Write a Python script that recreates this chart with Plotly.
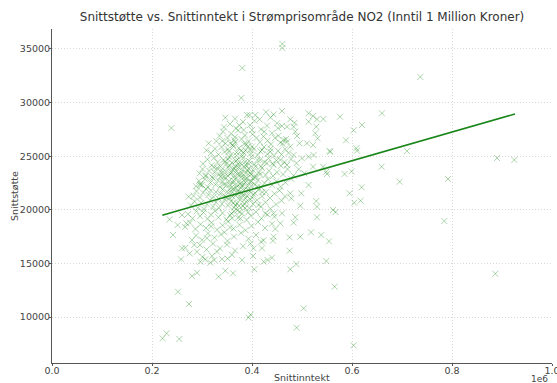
import plotly.graph_objects as go

# ---- data (income in kroner, support in kroner) ----
outlier_points = [
    (460600, 35470), (460600, 35090), (380600, 33230), (736600, 32390), (378600, 30430), (238600, 27630),
    (660000, 29000), (542600, 28470), (576000, 28680), (603200, 27420), (620000, 27910), (588000, 26480),
    (556600, 25420), (608600, 25740), (610000, 25510), (710000, 25480), (890000, 24830), (924600, 24650),
    (542000, 24020), (550000, 23340), (585200, 23340), (599200, 23590), (659200, 24020), (695200, 22620),
    (792000, 22870), (619200, 22100), (595200, 21540), (604600, 20660), (617200, 20850), (562000, 19980),
    (567200, 19790), (784600, 18950), (538600, 17650), (554000, 17060), (548600, 15220), (886600, 14040),
    (565200, 12830), (252000, 12360), (274000, 11210), (221200, 8010), (229200, 8480), (254600, 7950),
    (393200, 9940), (397200, 10220), (489200, 9000), (503200, 10810), (603200, 7360),
]

edge_points = [
    (346600, 28590), (313200, 26200), (340600, 26420), (374600, 27880), (390000, 28840), (356600, 26200),
    (364600, 26510), (307200, 23150), (324600, 23960), (296600, 22410), (336600, 23090), (383200, 27440),
    (395200, 28840), (406600, 28840), (415200, 28440), (443200, 28900), (460000, 29220), (513200, 29000),
    (522000, 28750), (476600, 28440), (485200, 28120), (470000, 27750), (483200, 27750), (513200, 28220),
    (530000, 28440), (528600, 27750), (450000, 28070), (460000, 27820), (400000, 27440), (424600, 27290),
    (440000, 27140), (456600, 26260), (463200, 26510), (470000, 26350), (486600, 27290), (490000, 26880),
    (526600, 27140), (531200, 26670), (495200, 26200), (510000, 26200), (522000, 26040), (555200, 25480),
    (396600, 25580), (420000, 25580), (436600, 25420), (476600, 25890), (483200, 25110), (500000, 24800),
    (513200, 24950), (523200, 25110), (548600, 23550), (493200, 23780), (504600, 23400), (456600, 24650),
    (470000, 24180), (443200, 24180), (416600, 24650), (430000, 24340), (522000, 24020),
    (296600, 22310), (273200, 21220), (260000, 19510), (235200, 19110), (251200, 18580), (268600, 18740),
    (242000, 17650), (260000, 16410), (266600, 16460), (258000, 15380), (280000, 17180), (284600, 16720),
    (275200, 15940), (290000, 16090), (280000, 13820), (290000, 14130), (296600, 15160), (306600, 15380),
    (316600, 15070), (324600, 15320), (333200, 13760), (346600, 14320), (362000, 14080), (351200, 15440),
    (404600, 14450), (423200, 15160), (431200, 15320), (440000, 15530), (402000, 15690), (403200, 16410),
    (420000, 16410), (475200, 16180), (476600, 14450), (488600, 14940), (418000, 17020), (443200, 17490),
    (442000, 17120), (446600, 18210), (475200, 17430), (496600, 17490), (518000, 17900), (456600, 18740),
    (483200, 18800), (486600, 19300), (530000, 19300), (496600, 20380), (528600, 20820), (530000, 20290),
    (478600, 21070), (476600, 21540), (498600, 21540), (513200, 22310), (443200, 19670), (426600, 19670),
    (460000, 19670),
]

core_points = [
    (335000, 26900), (342000, 27300), (351000, 26700), (358000, 27100), (366000, 26800), (372000, 27400),
    (379000, 26600), (386000, 26950), (393000, 26400), (401000, 27050), (409000, 26700), (416000, 26300),
    (423000, 26850), (431000, 26450), (438000, 26100), (446000, 26700), (453000, 26900), (461000, 26150),
    (468000, 26600), (329000, 26400), (347000, 26200), (362000, 26050), (384000, 26150),
    (344000, 27700), (356000, 28000), (368000, 27600), (382000, 28200), (396000, 27900), (405000, 28300),
    (418000, 27500), (430000, 27850), (437000, 28600), (452000, 27600), (366000, 28500), (428000, 29100),
    (318000, 25300), (326000, 25700), (333000, 25150), (339000, 25850), (345000, 25400), (352000, 25650),
    (357000, 25100), (363000, 25900), (369000, 25350), (374000, 25750), (381000, 25050), (387000, 25550),
    (392000, 25900), (398000, 25250), (404000, 25700), (411000, 25100), (417000, 25450), (424000, 25850),
    (431000, 25200), (437000, 25700), (444000, 25050), (452000, 25500), (459000, 25150), (466000, 25650),
    (473000, 25300), (309000, 25550), (354000, 25450), (378000, 25500),
    (302000, 24300), (311000, 24700), (319000, 24150), (324000, 24850), (331000, 24450), (337000, 24050),
    (343000, 24650), (348000, 24250), (355000, 24900), (360000, 24400), (366000, 24050), (371000, 24700),
    (377000, 24300), (382000, 24850), (388000, 24150), (394000, 24550), (399000, 24950), (405000, 24250),
    (411000, 24650), (418000, 24050), (425000, 24450), (433000, 24800), (441000, 24300), (449000, 24600),
    (458000, 24100), (465000, 24450), (478000, 24700), (489000, 24350), (346000, 24500), (368000, 24550),
    (386000, 24450), (352000, 24700),
    (295000, 23400), (301000, 23800), (308000, 23200), (314000, 23650), (320000, 23050), (325000, 23500),
    (330000, 23900), (334000, 23300), (339000, 23700), (344000, 23100), (348000, 23550), (352000, 23950),
    (357000, 23350), (361000, 23750), (365000, 23150), (369000, 23600), (373000, 23950), (377000, 23250),
    (381000, 23700), (385000, 23050), (389000, 23450), (393000, 23850), (398000, 23300), (403000, 23650),
    (408000, 23100), (414000, 23500), (420000, 23900), (427000, 23250), (434000, 23650), (442000, 23150),
    (450000, 23500), (462000, 23300), (471000, 23800), (483000, 23200), (359000, 23500), (371000, 23300),
    (379000, 23450), (391000, 23650),
    (288000, 22200), (294000, 22700), (300000, 22300), (306000, 22850), (312000, 22100), (317000, 22550),
    (322000, 22950), (327000, 22350), (332000, 22750), (336000, 22150), (341000, 22600), (345000, 22950),
    (349000, 22300), (354000, 22700), (358000, 22050), (362000, 22500), (366000, 22900), (370000, 22250),
    (374000, 22650), (378000, 22050), (382000, 22450), (386000, 22850), (391000, 22200), (396000, 22600),
    (401000, 22950), (406000, 22350), (412000, 22750), (418000, 22100), (425000, 22500), (432000, 22850),
    (440000, 22300), (448000, 22650), (457000, 22150), (467000, 22550), (478000, 22900), (363000, 22700),
    (376000, 22400), (387000, 22550), (398000, 22250),
    (283000, 21300), (289000, 21750), (296000, 21150), (302000, 21600), (308000, 21950), (313000, 21400),
    (318000, 21800), (323000, 21200), (328000, 21650), (333000, 21050), (337000, 21500), (341000, 21900),
    (346000, 21300), (350000, 21700), (355000, 21100), (359000, 21550), (363000, 21950), (367000, 21350),
    (371000, 21750), (376000, 21150), (380000, 21550), (385000, 21900), (390000, 21300), (395000, 21700),
    (400000, 21150), (406000, 21550), (413000, 21850), (420000, 21250), (428000, 21650), (436000, 21100),
    (445000, 21500), (455000, 21800), (466000, 21250), (372000, 21500), (384000, 21400), (358000, 21800),
    (278000, 20400), (285000, 20800), (292000, 20200), (298000, 20650), (304000, 20050), (310000, 20500),
    (316000, 20900), (322000, 20300), (328000, 20700), (334000, 20150), (340000, 20550), (346000, 20950),
    (352000, 20400), (358000, 20800), (364000, 20200), (370000, 20600), (376000, 20950), (382000, 20350),
    (388000, 20750), (395000, 20150), (402000, 20550), (410000, 20900), (418000, 20300), (427000, 20700),
    (437000, 20100), (448000, 20500), (459000, 20850), (367000, 20400), (385000, 20550),
    (272000, 19600), (281000, 19200), (289000, 19850), (296000, 19400), (303000, 19750), (311000, 19150),
    (318000, 19550), (326000, 19900), (333000, 19300), (341000, 19700), (349000, 19100), (356000, 19500),
    (364000, 19850), (372000, 19250), (380000, 19650), (389000, 19050), (398000, 19450), (408000, 19800),
    (419000, 19200), (431000, 19550), (445000, 19350), (360000, 19200), (375000, 19800),
    (266000, 18400), (276000, 18800), (287000, 18200), (297000, 18650), (308000, 18300), (319000, 18800),
    (330000, 18150), (341000, 18550), (352000, 18900), (363000, 18250), (375000, 18600), (387000, 18100),
    (399000, 18500), (412000, 18850), (426000, 18300), (440000, 18700), (318000, 18450), (356000, 18350),
    (288000, 17600), (300000, 17200), (312000, 17800), (325000, 17400), (338000, 17700), (351000, 17100),
    (364000, 17500), (378000, 17850), (393000, 17300), (408000, 17650), (423000, 17150), (310000, 17350),
    (345000, 17900),
    (296000, 16700), (309000, 16300), (322000, 16850), (336000, 16400), (350000, 16750), (366000, 16200),
    (382000, 16600), (397000, 16850), (330000, 16100),
    (320000, 15700), (340000, 15400), (360000, 15800), (380000, 15300), (301000, 15600),
]

# extra points in the densest part of the cloud
dense_points = [
    (352000, 23150), (356000, 22350), (361000, 21250), (365000, 23850), (368000, 22050), (372000, 24250),
    (375000, 21650), (378000, 23050), (381000, 22250), (384000, 24050), (387000, 21050), (390000, 22950),
    (393000, 21850), (396000, 23450), (399000, 22650), (403000, 21450), (407000, 24050), (411000, 22150),
    (363000, 20650), (374000, 20350), (386000, 20150), (397000, 20950), (355000, 24150), (369000, 25050),
    (383000, 25350), (394000, 24250), (405000, 23050), (359000, 19650), (371000, 19950), (392000, 19750),
    (348000, 21150), (344000, 22350), (340000, 23450), (416000, 23300), (421000, 21650), (413000, 20450),
    (366000, 26300), (389000, 26100), (377000, 19200), (400000, 25900),
]

all_points = outlier_points + edge_points + core_points + dense_points
income = [p[0] for p in all_points]
support = [p[1] for p in all_points]

# fitted regression line (end points)
trend_income = [220600, 926000]
trend_support = [19500, 28940]

x_tick_vals = [0, 200000, 400000, 600000, 800000, 1000000]
x_tick_text = ["0.0", "0.2", "0.4", "0.6", "0.8", "1.0"]
y_tick_vals = [10000, 15000, 20000, 25000, 30000, 35000]
y_tick_text = ["10000", "15000", "20000", "25000", "30000", "35000"]

title_text = "Snittstøtte vs. Snittinntekt i Strømprisområde NO2 (Inntil 1 Million Kroner)"
x_label = "Snittinntekt"
y_label = "Snittstøtte"

FONT = "DejaVu Sans"
TXT = "#444444"

fig = go.Figure()
fig.add_trace(go.Scatter(
    x=income, y=support, mode="markers",
    marker=dict(symbol="x-thin", size=6, color="rgba(0,128,0,0.32)",
                line=dict(width=1, color="rgba(0,128,0,0.32)")),
    showlegend=False, hoverinfo="skip",
))
fig.add_trace(go.Scatter(
    x=trend_income, y=trend_support, mode="lines",
    line=dict(color="#1a861a", width=1.5), showlegend=False,
))

axis_common = dict(
    showline=True, linecolor="#555555", linewidth=1, mirror=False,
    ticks="outside", ticklen=2, tickcolor="#555555", tickwidth=1,
    showgrid=True, gridcolor="#d8d8d8", griddash="1px,2px", gridwidth=1,
    zeroline=False, tickfont=dict(family=FONT, size=9.5, color=TXT),
    automargin=False, ticklabeloverflow="allow",
)

fig.update_layout(
    width=557, height=383,
    margin=dict(l=52, r=5, t=29, b=20),
    paper_bgcolor="white", plot_bgcolor="white",
    font=dict(family=FONT, color=TXT),
    title=dict(text=title_text, x=0.5423, xanchor="center", y=0.955, yanchor="middle",
               font=dict(family=FONT, size=12, color="#333333")),
    xaxis=dict(range=[0, 1000000], tickvals=x_tick_vals, ticktext=x_tick_text,
               ticklabelstandoff=-3, **axis_common),
    yaxis=dict(range=[5709, 36865], tickvals=y_tick_vals, ticktext=y_tick_text,
               ticklabelstandoff=-3, **axis_common),
    annotations=[
        dict(text=x_label, xref="paper", yref="paper", x=0.5, y=-0.066, yanchor="bottom",
             showarrow=False, font=dict(family=FONT, size=9.5, color=TXT)),
        dict(text=y_label, xref="paper", yref="paper", x=-0.076, y=0.5, textangle=-90,
             xanchor="center", yanchor="middle",
             showarrow=False, font=dict(family=FONT, size=9.5, color=TXT)),
        dict(text="1e6", xref="paper", yref="paper", x=0.975, y=-0.069, yanchor="bottom",
             xanchor="center", showarrow=False, font=dict(family=FONT, size=9, color=TXT)),
    ],
)

fig.write_html("out.html", config={"displayModeBar": False},
               post_script="document.body.style.margin='0';document.body.style.overflow='hidden';")
